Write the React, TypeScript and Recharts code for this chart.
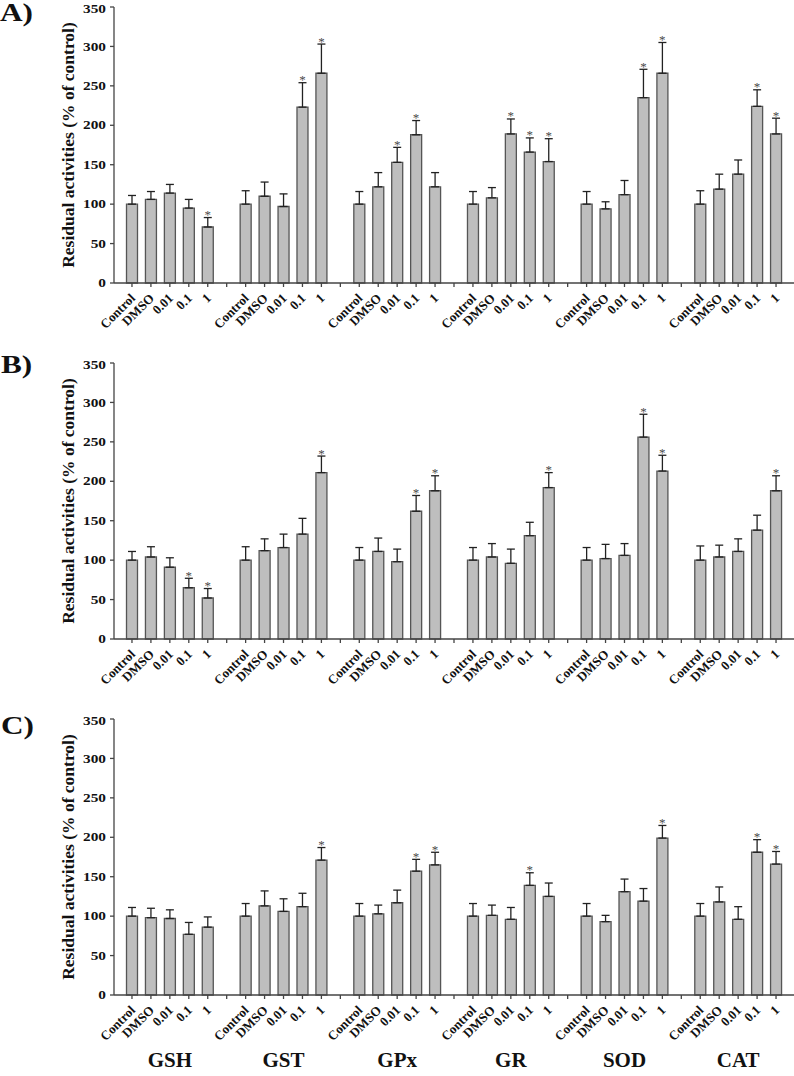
import React from 'react';
import { ComposedChart, Bar, Line, XAxis, YAxis, ErrorBar } from 'recharts';

const FONT = '"Liberation Serif","Times New Roman",serif';

const treatments = ['Control', 'DMSO', '0.01', '0.1', '1'];
const enzymes = ['GSH', 'GST', 'GPx', 'GR', 'SOD', 'CAT'];
const yTicks = [0, 50, 100, 150, 200, 250, 300, 350];
const panelLabels = ['A)', 'B)', 'C)'];
const yLabel = 'Residual activities (% of control)';

// Panel A
const meansA = [
  [100, 106, 114, 95, 71],
  [100, 110, 97, 223, 266],
  [100, 122, 153, 188, 122],
  [100, 108, 189, 166, 154],
  [100, 94, 112, 235, 266],
  [100, 119, 138, 224, 189],
];
const errsA = [
  [11, 10, 11, 11, 12],
  [17, 18, 16, 31, 37],
  [16, 18, 19, 18, 18],
  [16, 13, 19, 18, 29],
  [16, 9, 18, 36, 39],
  [17, 19, 18, 21, 20],
];
const sigA = [
  [0, 0, 0, 0, 1],
  [0, 0, 0, 1, 1],
  [0, 0, 1, 1, 0],
  [0, 0, 1, 1, 1],
  [0, 0, 0, 1, 1],
  [0, 0, 0, 1, 1],
];

// Panel B
const meansB = [
  [100, 104, 91, 65, 52],
  [100, 112, 116, 133, 211],
  [100, 111, 98, 162, 188],
  [100, 104, 96, 131, 192],
  [100, 102, 106, 256, 213],
  [100, 104, 111, 138, 188],
];
const errsB = [
  [11, 13, 12, 12, 12],
  [17, 15, 17, 20, 21],
  [16, 17, 16, 20, 19],
  [16, 17, 18, 17, 19],
  [16, 18, 15, 29, 20],
  [18, 15, 16, 19, 19],
];
const sigB = [
  [0, 0, 0, 1, 1],
  [0, 0, 0, 0, 1],
  [0, 0, 0, 1, 1],
  [0, 0, 0, 0, 1],
  [0, 0, 0, 1, 1],
  [0, 0, 0, 0, 1],
];

// Panel C
const meansC = [
  [100, 98, 97, 77, 86],
  [100, 113, 106, 112, 171],
  [100, 103, 117, 157, 165],
  [100, 101, 96, 139, 125],
  [100, 93, 131, 119, 199],
  [100, 118, 96, 181, 166],
];
const errsC = [
  [11, 12, 11, 15, 13],
  [16, 19, 16, 17, 16],
  [16, 11, 16, 15, 16],
  [16, 13, 15, 16, 17],
  [16, 8, 16, 16, 16],
  [16, 19, 16, 16, 16],
];
const sigC = [
  [0, 0, 0, 0, 0],
  [0, 0, 0, 0, 1],
  [0, 0, 0, 1, 1],
  [0, 0, 0, 1, 0],
  [0, 0, 0, 0, 1],
  [0, 0, 0, 1, 1],
];

type Row = {
  key: string;
  label: string;
  group: string;
  mean: number | null;
  err: [number, number] | null;
  star: number | null;
};

function buildRows(means: number[][], errs: number[][], sig: number[][]): Row[] {
  const rows: Row[] = [];
  enzymes.forEach((enz, g) => {
    treatments.forEach((t, i) => {
      rows.push({
        key: `${enz}-${t}`,
        label: t,
        group: i === 2 ? enz : '',
        mean: means[g][i],
        err: [0, errs[g][i]],
        star: sig[g][i] ? means[g][i] + errs[g][i] : null,
      });
    });
    if (g < enzymes.length - 1) {
      rows.push({ key: `${enz}-gap`, label: '', group: '', mean: null, err: null, star: null });
    }
  });
  return rows;
}

const panels = [
  { rows: buildRows(meansA, errsA, sigA), top: 0, height: 339, bottom: 0, showGroup: false, labelTop: 0, labelLeft: 0 },
  { rows: buildRows(meansB, errsB, sigB), top: 356, height: 339, bottom: 0, showGroup: false, labelTop: 352, labelLeft: 1 },
  { rows: buildRows(meansC, errsC, sigC), top: 712, height: 364, bottom: 25, showGroup: true, labelTop: 713, labelLeft: 1 },
];

const makeXTick = (rows: Row[], showGroup: boolean) => (props: any) => {
  const { x, y, payload } = props;
  const row = rows.find((r) => r.key === payload.value);
  if (!row) return <g />;
  return (
    <g>
      {row.label ? (
        <text
          transform={`translate(${x + 4},${y + 10}) rotate(-45)`}
          textAnchor="end"
          fontSize={13}
          fontWeight="bold"
          fontFamily={FONT}
          fill="#111"
        >
          {row.label}
        </text>
      ) : null}
      {showGroup && row.group ? (
        <text x={x} y={y + 66} textAnchor="middle" fontSize={21} fontWeight="bold" fontFamily={FONT} fill="#111">
          {row.group}
        </text>
      ) : null}
    </g>
  );
};

const YTick = (props: any) => {
  const { x, y, payload } = props;
  return (
    <text
      transform={`translate(${x},${y}) scale(1.33,1)`}
      textAnchor="end"
      dy="0.36em"
      fontSize={11.5}
      fontWeight="bold"
      fontFamily={FONT}
      fill="#111"
    >
      {payload.value}
    </text>
  );
};

const YLabel = (props: any) => {
  const vb = props.viewBox || { y: 0, height: 0 };
  const cy = vb.y + vb.height / 2;
  return (
    <text
      transform={`translate(74,${cy}) rotate(-90)`}
      textAnchor="middle"
      fontSize={17.5}
      fontWeight="bold"
      fontFamily={FONT}
      fill="#111"
    >
      {yLabel}
    </text>
  );
};

const StarDot = (props: any) => {
  const { cx, cy, payload, index } = props;
  if (payload == null || payload.star == null || cy == null || isNaN(cy)) return <g key={`s-${index}`} />;
  return (
    <text key={`s-${index}`} x={cx} y={cy + 1.5} textAnchor="middle" fontSize={13} fontFamily={FONT} fill="#4a4a4a">
      *
    </text>
  );
};

export default function App() {
  return (
    <div
      style={{
        position: 'absolute',
        left: 0,
        top: 0,
        width: 794,
        height: 1076,
        overflow: 'hidden',
        background: '#fff',
        fontFamily: FONT,
      }}
    >
      {panels.map((p, pi) => (
        <React.Fragment key={pi}>
          <div style={{ position: 'absolute', left: 0, top: p.top }}>
            <ComposedChart
              width={794}
              height={p.height}
              data={p.rows}
              margin={{ top: 7, right: 0, left: 54, bottom: p.bottom }}
              barCategoryGap={0}
            >
              <XAxis
                dataKey="key"
                type="category"
                interval={0}
                height={56}
                padding={{ left: 8.5, right: 8.5 }}
                tickSize={4}
                tickMargin={2}
                stroke="#444"
                strokeWidth={1.3}
                tick={makeXTick(p.rows, p.showGroup)}
              />
              <YAxis
                type="number"
                domain={[0, 350]}
                ticks={yTicks}
                width={60}
                tickSize={4}
                tickMargin={4}
                stroke="#444"
                strokeWidth={1.3}
                tick={<YTick />}
                label={(lp: any) => <YLabel {...lp} />}
              />
              <Bar dataKey="mean" barSize={11} fill="#bebebe" stroke="#555" strokeWidth={1.3} isAnimationActive={false}>
                <ErrorBar dataKey="err" direction="y" width={4} stroke="#222" strokeWidth={1.3} isAnimationActive={false} />
              </Bar>
              <Line
                dataKey="star"
                stroke="none"
                dot={<StarDot />}
                activeDot={false}
                legendType="none"
                isAnimationActive={false}
              />
            </ComposedChart>
          </div>
          <div
            style={{
              position: 'absolute',
              left: p.labelLeft,
              top: p.labelTop,
              fontSize: 25,
              lineHeight: '25px',
              fontWeight: 'bold',
              color: '#111',
              transform: 'scaleX(1.25)',
              transformOrigin: 'left top',
              whiteSpace: 'nowrap',
            }}
          >
            {panelLabels[pi]}
          </div>
        </React.Fragment>
      ))}
    </div>
  );
}
